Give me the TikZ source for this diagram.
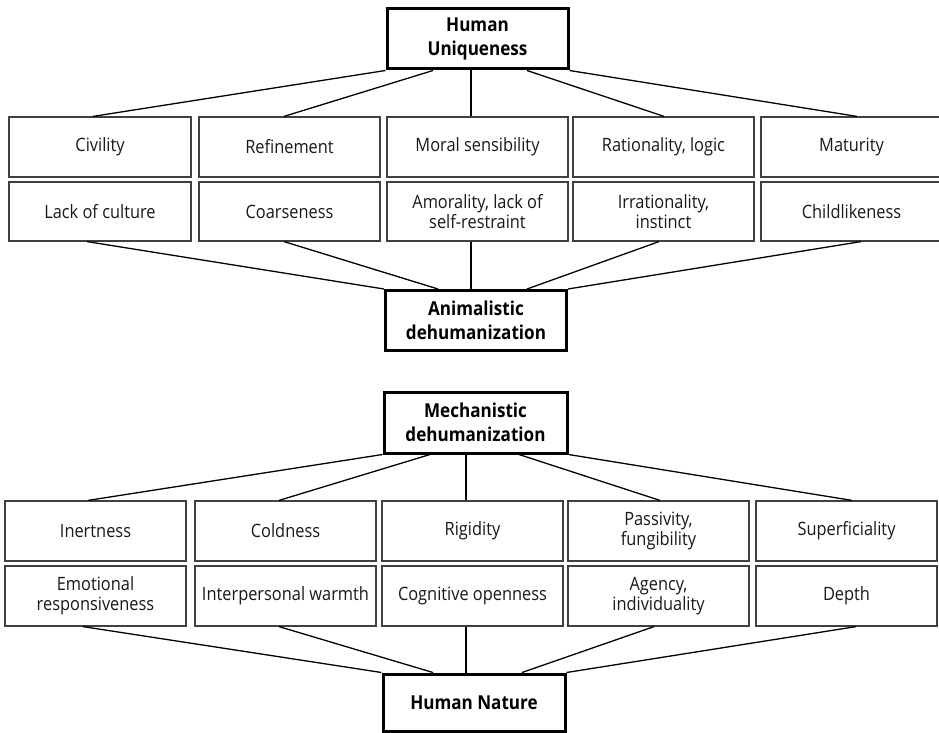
\documentclass[tikz,border=0pt]{standalone}
\usepackage{fontspec}
\setmainfont[FakeStretch=0.89]{Open Sans}
\usetikzlibrary{calc}
\tikzset{
  cell/.style={draw=black!75, line width=1.2pt, fill=white, minimum height=60pt, inner sep=2pt, align=center, font=\fontsize{18.4}{20}\selectfont, text=black!90},
  head/.style={draw=black, line width=3pt, fill=white, align=center, inner sep=2pt, font=\fontsize{19.2}{24.5}\selectfont\bfseries},
  link/.style={line width=1.3pt, black}
}
\begin{document}
\begin{tikzpicture}[x=1pt,y=-1pt]
\useasboundingbox (0,0) rectangle (939,733);
% ---------- top section ----------
\node[head, minimum width=181pt, minimum height=60pt] (hu) at (477.5,39) {Human\\Uniqueness};
\node[cell, minimum width=182pt] (civ) at (100,147) {Civility};
\node[cell, minimum width=181pt] (ref) at (289.5,147) {Refinement};
\node[cell, minimum width=181pt] (mor) at (477.5,147) {Moral sensibility};
\node[cell, minimum width=181pt] (rat) at (663.5,147) {Rationality, logic};
\node[cell, minimum width=181pt] (mat) at (851.5,147) {Maturity};
\node[cell, minimum width=182pt, minimum height=59pt] (lac) at (100,211.5) {Lack of culture};
\node[cell, minimum width=181pt, minimum height=59pt] (coa) at (289.5,211.5) {Coarseness};
\node[cell, minimum width=181pt, minimum height=59pt] (amo) at (477.5,211.5) {Amorality, lack of\\self-restraint};
\node[cell, minimum width=181pt, minimum height=59pt] (irr) at (663.5,211.5) {Irrationality,\\instinct};
\node[cell, minimum width=181pt, minimum height=59pt] (chi) at (851.5,211.5) {Childlikeness};
\node[head, minimum width=181pt, minimum height=60pt] (ad) at (476,320.5) {Animalistic\\dehumanization};
\draw[link] (hu.south west) -- ([xshift=-7pt]civ.north);
\draw[link] ([xshift=-44.5pt]hu.south) -- ([xshift=-5.5pt]ref.north);
\draw[link] ([xshift=-6.5pt]hu.south) -- ([xshift=-6.5pt]mor.north);
\draw[link] ([xshift=49.5pt]hu.south) -- ([xshift=0.5pt]rat.north);
\draw[link] (hu.south east) -- ([xshift=5.5pt]mat.north);
\draw[link] ([xshift=-13pt]lac.south) -- (ad.north west);
\draw[link] ([xshift=-5.5pt]coa.south) -- ([xshift=-38pt]ad.north);
\draw[link] ([xshift=-6.5pt]amo.south) -- ([xshift=-5pt]ad.north);
\draw[link] ([xshift=-4.5pt]irr.south) -- ([xshift=51pt]ad.north);
\draw[link] ([xshift=9.5pt]chi.south) -- (ad.north east);
% ---------- bottom section ----------
\node[head, minimum width=183pt, minimum height=61pt] (md) at (475.5,422.5) {Mechanistic\\dehumanization};
\node[cell, minimum width=181pt] (ine) at (95.5,531) {Inertness};
\node[cell, minimum width=181pt] (col) at (285.5,531) {Coldness};
\node[cell, minimum width=181pt] (rig) at (472.5,531) {Rigidity};
\node[cell, minimum width=181pt] (pas) at (658.5,531) {Passivity,\\fungibility};
\node[cell, minimum width=181pt] (sup) at (846.5,531) {Superficiality};
\node[cell, minimum width=181pt] (emo) at (95.5,596) {Emotional\\responsiveness};
\node[cell, minimum width=181pt] (int) at (285.5,596) {Interpersonal warmth};
\node[cell, minimum width=181pt] (cog) at (472.5,596) {Cognitive openness};
\node[cell, minimum width=181pt] (age) at (658.5,596) {Agency,\\individuality};
\node[cell, minimum width=181pt] (dep) at (846.5,596) {Depth};
\node[head, minimum width=182pt, minimum height=57pt] (hn) at (474,702.5) {Human Nature};
\draw[link] (md.south west) -- ([xshift=-7.5pt]ine.north);
\draw[link] ([xshift=-45.5pt]md.south) -- ([xshift=-6.5pt]col.north);
\draw[link] ([xshift=-9.5pt]md.south) -- ([xshift=-6.5pt]rig.north);
\draw[link] ([xshift=43.5pt]md.south) -- ([xshift=1.5pt]pas.north);
\draw[link] (md.south east) -- ([xshift=5.5pt]sup.north);
\draw[link] ([xshift=-12.5pt]emo.south) -- (hn.north west);
\draw[link] ([xshift=-6.5pt]int.south) -- ([xshift=-41pt]hn.north);
\draw[link] ([xshift=-6.5pt]cog.south) -- ([xshift=-8pt]hn.north);
\draw[link] ([xshift=-4.5pt]age.south) -- ([xshift=48pt]hn.north);
\draw[link] ([xshift=9.5pt]dep.south) -- (hn.north east);
\end{tikzpicture}
\end{document}
